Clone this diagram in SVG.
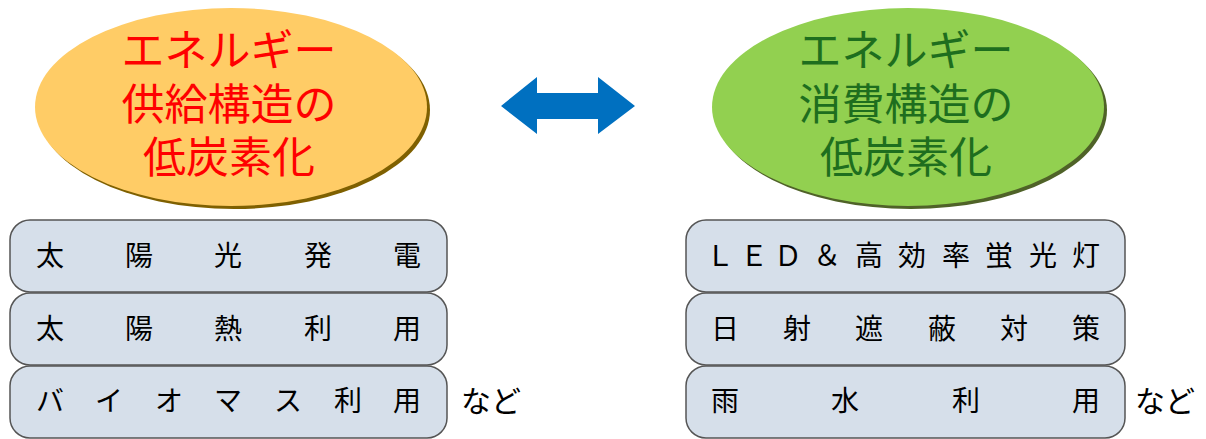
<svg xmlns="http://www.w3.org/2000/svg" width="1206" height="439" viewBox="0 0 1206 439">
<style>
  .t { font-family: "Noto Sans CJK JP", "Noto Sans", sans-serif; }
  .big { font-size: 43px; text-anchor: middle; }
  .red { fill: #FF0000; }
  .grn { fill: #1E6E1E; }
  .box { fill: #D6DFEA; stroke: #555555; stroke-width: 1.5; }
  .bt { font-size: 28px; fill: #000000; text-anchor: middle; }
  .nado { font-size: 30px; fill: #000000; }
</style>
<rect width="1206" height="439" fill="#FFFFFF"/>

<g id="supply">
  <ellipse cx="234" cy="110" rx="196" ry="99" fill="#7F6000"/>
  <ellipse cx="231" cy="107" rx="196" ry="99" fill="#FFCC66"/>
  <text class="t big red"><tspan x="229" y="66">エネルギー</tspan><tspan x="229" y="120">供給構造の</tspan><tspan x="229" y="173">低炭素化</tspan></text>
</g>

<g id="demand">
  <ellipse cx="911" cy="110" rx="196" ry="99" fill="#4F6228"/>
  <ellipse cx="908" cy="107" rx="196" ry="99" fill="#92D050"/>
  <text class="t big grn"><tspan x="906" y="66">エネルギー</tspan><tspan x="906" y="120">消費構造の</tspan><tspan x="906" y="173">低炭素化</tspan></text>
</g>

<g id="connectors">
  <polygon points="501,106 537,77 537,93 598,93 598,77 635,106 598,134 598,119 537,119 537,134" fill="#0070C0"/>
</g>

<g id="solar-power">
  <rect class="box" x="10" y="220" width="437" height="72" rx="20"/>
  <g class="t bt">
    <text x="50" y="266">太</text><text x="139" y="266">陽</text><text x="228" y="266">光</text><text x="318" y="266">発</text><text x="407" y="266">電</text>
  </g>
</g>

<g id="solar-heat">
  <rect class="box" x="10" y="293" width="437" height="72" rx="20"/>
  <g class="t bt">
    <text x="50" y="339">太</text><text x="139" y="339">陽</text><text x="228" y="339">熱</text><text x="318" y="339">利</text><text x="407" y="339">用</text>
  </g>
</g>

<g id="biomass">
  <rect class="box" x="10" y="366" width="437" height="72" rx="20"/>
  <g class="t bt">
    <text x="50" y="411">バ</text><text x="109" y="411">イ</text><text x="169" y="411">オ</text><text x="228" y="411">マ</text><text x="288" y="411">ス</text><text x="348" y="411">利</text><text x="407" y="411">用</text>
  </g>
</g>
<text id="nado-left" class="t nado" x="461" y="412">など</text>

<g id="led">
  <rect class="box" x="686" y="220" width="439" height="72" rx="20"/>
  <g class="t bt">
    <text x="720" y="266">Ｌ</text><text x="754" y="266">Ｅ</text><text x="788" y="266">Ｄ</text><text x="827" y="266">＆</text><text x="869" y="266">高</text><text x="912" y="266">効</text><text x="956" y="266">率</text><text x="999" y="266">蛍</text><text x="1043" y="266">光</text><text x="1086" y="266">灯</text>
  </g>
</g>

<g id="shading">
  <rect class="box" x="686" y="293" width="439" height="72" rx="20"/>
  <g class="t bt">
    <text x="725" y="339">日</text><text x="797" y="339">射</text><text x="869" y="339">遮</text><text x="942" y="339">蔽</text><text x="1014" y="339">対</text><text x="1086" y="339">策</text>
  </g>
</g>

<g id="rainwater">
  <rect class="box" x="686" y="366" width="439" height="72" rx="20"/>
  <g class="t bt">
    <text x="725" y="411">雨</text><text x="845" y="411">水</text><text x="966" y="411">利</text><text x="1086" y="411">用</text>
  </g>
</g>
<text id="nado-right" class="t nado" x="1135" y="412">など</text>
</svg>
